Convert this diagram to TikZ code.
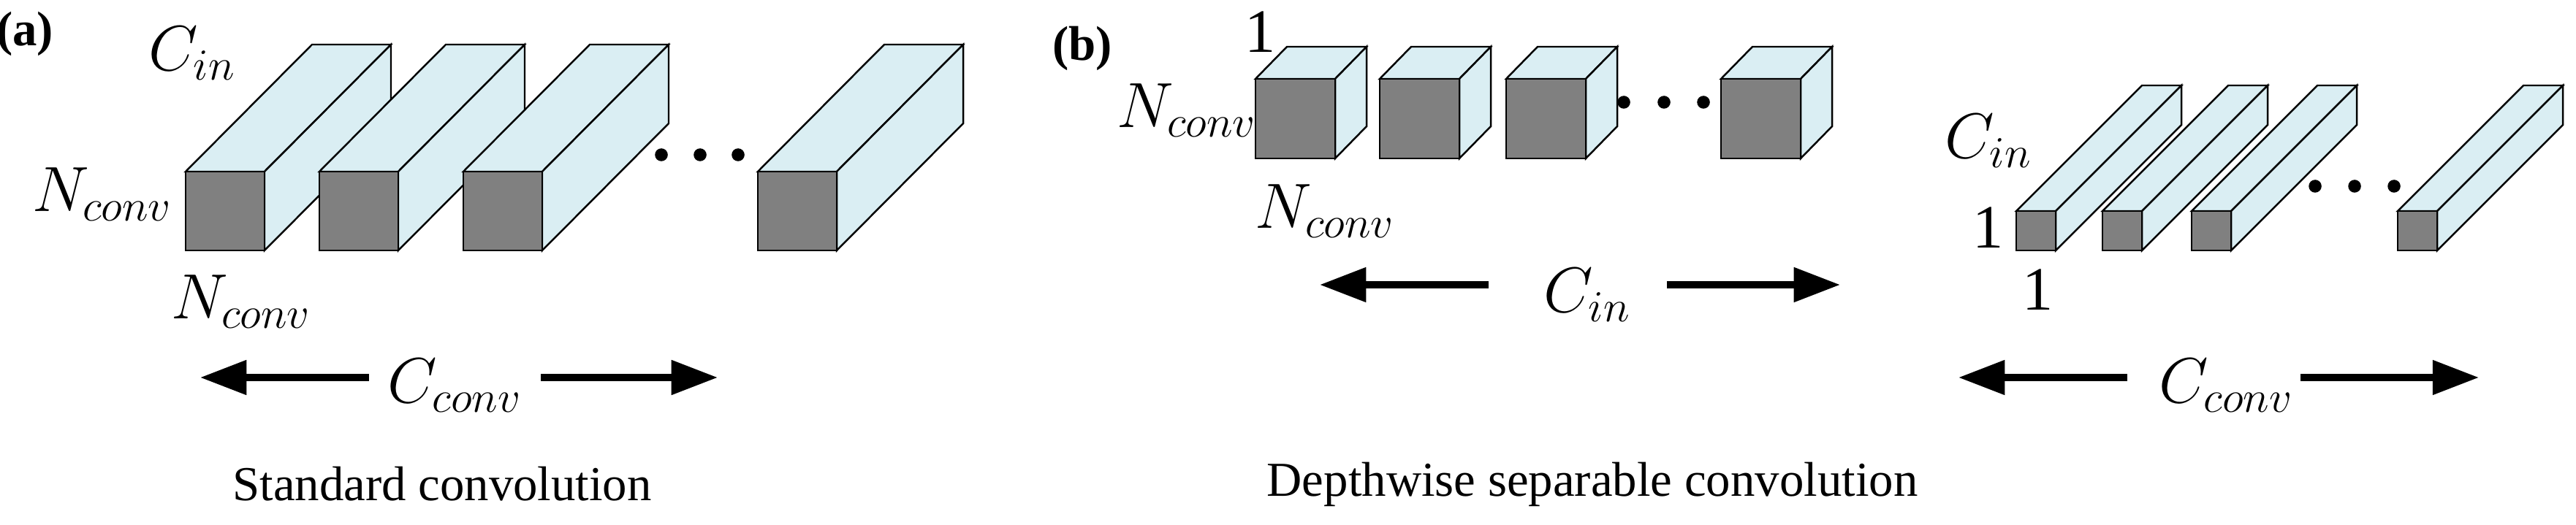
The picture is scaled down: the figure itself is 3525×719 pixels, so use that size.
\documentclass[tikz,border=0pt]{standalone}
\usepackage{fontspec}
\setmainfont{Liberation Serif}
\usetikzlibrary{arrows.meta}
\definecolor{facefront}{RGB}{128,128,128}
\definecolor{faceside}{RGB}{218,238,243}
% prism: front lower-left corner (#1,#2), size #3, depth offset (#4,#5)
\newcommand\prism[5]{%
	\filldraw[fill=faceside] (#1,#2-#3) -- ++(#4,#5) -- ++(#3,0) -- ++(-#4,-#5) -- cycle;
	\filldraw[fill=faceside] (#1+#3,#2-#3) -- ++(#4,#5) -- ++(0,#3) -- ++(-#4,-#5) -- cycle;
	\filldraw[fill=facefront] (#1,#2) rectangle ++(#3,-#3);}
\tikzset{
	lbl/.style={font=\fontsize{24}{28}\selectfont},
	captext/.style={font=\fontsize{19}{23}\selectfont},
	dimarrow/.style={-{Triangle[length=18pt,width=13pt]}, line width=2.6pt},
	dot/.style={circle, fill=black, inner sep=0pt, minimum size=5pt}
}
\begin{document}
\begin{tikzpicture}[x=0.01cm, y=-0.01cm, line width=0.7pt]
	\useasboundingbox (0,0) rectangle (3525,719);
	% (a) standard convolution
	\foreach \x in {254,437,634,1037}
		\prism{\x}{343}{108}{173}{-174};
	\foreach \x in {905,958,1010}
		\node[dot] at (\x,212) {};
	\node[font=\fontsize{19}{23}\selectfont\bfseries] (la) at (34,46) {(a)};
	\node[lbl] (cina) at (263,73) {$C_{in}$};
	\node[lbl] (nla) at (140,266) {$N_{conv}$};
	\node[lbl] (nba) at (330,413) {$N_{conv}$};
	\node[lbl] (cca) at (622,528) {$C_{conv}$};
	\coordinate (al) at (274,517);
	\coordinate (ar) at (982,517);
	\draw[dimarrow] (505,517) -- (al);
	\draw[dimarrow] (740,517) -- (ar);
	\node[captext] (capa) at (605,663) {Standard convolution};
	% (b) depthwise separable convolution
	\foreach \x in {1718,1888,2061,2355}
		\prism{\x}{217}{109}{43}{-44};
	\foreach \x in {2222,2277,2331}
		\node[dot] at (\x,140) {};
	\foreach \x in {2759,2877,2999,3281}
		\prism{\x}{343}{54}{172}{-172};
	\foreach \x in {3168,3222,3276}
		\node[dot] at (\x,255) {};
	\node[font=\fontsize{19}{23}\selectfont\bfseries] (lb) at (1481,66) {(b)};
	\node[lbl] (onet) at (1725,44) {1};
	\node[lbl] (nlb) at (1624,151) {$N_{conv}$};
	\node[lbl] (nbb) at (1813,289) {$N_{conv}$};
	\node[lbl] (cinb) at (2172,404) {$C_{in}$};
	\draw[dimarrow] (2037,390) -- (1806,390);
	\draw[dimarrow] (2281,390) -- (2518,390);
	\node[lbl] (cinc) at (2721,193) {$C_{in}$};
	\node[lbl] (onel) at (2721,312) {1};
	\node[lbl] (oneb) at (2789,397) {1};
	\node[lbl] (ccb) at (3046,528) {$C_{conv}$};
	\draw[dimarrow] (2911,517) -- (2680,517);
	\draw[dimarrow] (3148,517) -- (3392,517);
	\node[captext] (capb) at (2179,663) {Depthwise separable convolution};
\end{tikzpicture}
\end{document}
